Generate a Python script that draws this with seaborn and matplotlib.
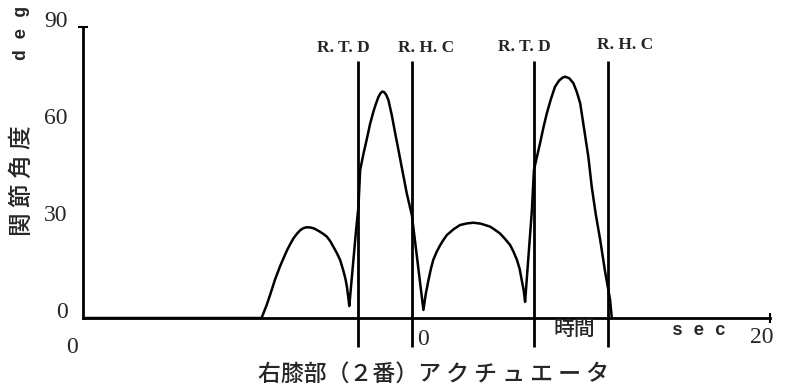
import pandas as pd
import seaborn as sns
import matplotlib.pyplot as plt
from matplotlib.transforms import ScaledTranslation

"""
Data read off the scanned chart
"""
# joint angle trace (time in sec, angle in deg)
time_sec = [0.0, 5.25, 5.4, 5.5, 5.65, 5.79, 5.9, 6.0, 6.1, 6.19, 6.3, 6.4, 6.5, 6.58, 6.7, 6.8,
            6.97, 7.07, 7.17, 7.27, 7.36, 7.46, 7.56, 7.66, 7.72, 7.76, 7.80, 7.83,
            8.03, 8.10, 8.15, 8.25, 8.34, 8.44, 8.54, 8.62, 8.69, 8.75, 8.80, 8.86, 8.92, 8.98,
            9.08, 9.18, 9.28, 9.37, 9.45, 9.52, 9.6, 9.67,
            10.01, 10.08, 10.16, 10.23, 10.3, 10.4, 10.5, 10.6, 10.7, 10.9, 11.09, 11.3, 11.48,
            11.7, 11.97, 12.1, 12.26, 12.4, 12.56, 12.66, 12.76, 12.84, 12.9, 12.96, 13.0,
            13.2, 13.26, 13.35, 13.44, 13.54, 13.64, 13.76, 13.88, 14.0, 14.1, 14.18, 14.3,
            14.42, 14.52, 14.62, 14.71, 14.86, 14.96, 15.08, 15.21, 15.35, 15.5, 15.55]
angle_deg = [0.0, 0.0, 4.0, 7.1, 12.0, 15.9, 18.6, 21.0, 23.0, 24.7, 26.2, 27.3, 27.9, 28.1, 28.0, 27.7,
             26.7, 26.0, 25.2, 23.8, 22.1, 20.2, 18.0, 14.5, 12.0, 9.7, 6.5, 3.7,
             27.2, 34.5, 45.8, 51.0, 55.1, 60.0, 63.9, 66.5, 68.5, 69.6, 70.1, 69.9, 69.0, 67.5,
             62.8, 57.2, 51.8, 46.8, 42.5, 38.6, 35.0, 31.9,
             2.5, 7.5, 11.8, 15.2, 18.0, 20.5, 22.5, 24.2, 25.7, 27.5, 28.8, 29.3, 29.5,
             29.2, 28.3, 27.4, 26.2, 24.6, 22.6, 20.5, 18.0, 15.2, 11.8, 8.5, 5.0,
             33.4, 45.8, 50.0, 54.1, 59.0, 63.4, 67.8, 71.6, 73.5, 74.4, 74.7, 74.2,
             72.7, 70.0, 66.5, 60.3, 49.9, 40.6, 32.0, 24.1, 14.5, 5.6, 0.0]

# gait events
event_names = ["R. T. D", "R. H. C", "R. T. D", "R. H. C"]
event_times = [8.10, 9.67, 13.27, 15.44]

y_tick_values = [0, 30, 60, 90]
y_tick_labels = ["0", "30", "60", "90"]
x_tick_values = [0, 10, 20]
x_tick_labels = ["0", "0", "20"]

df = pd.DataFrame({"time": time_sec, "angle": angle_deg})

"""
Figure
"""
sns.set_style("white")
plt.rcParams['font.family'] = ['Liberation Serif', 'Noto Sans CJK JP', 'DejaVu Sans']

W, H = 787, 389
fig = plt.figure(figsize=(W / 100, H / 100), dpi=100)
# axes placed so that x=0 sits at px 83, y=0 at px 318
ax = fig.add_axes([83 / W, (H - 356.8) / H, 690 / W, 336.0 / H])
ax.set_xlim(0, 20.29)
ax.set_ylim(-12, 92)
ax.patch.set_alpha(0)

sns.lineplot(data=df, x="time", y="angle", sort=False, estimator=None,
             color="black", linewidth=1.8, ax=ax)
ax.vlines(event_times, -9, 79.5, color="black", linewidth=2.0)

# event labels a little off the lines, as in the scan
label_shift = [-0.44, 0.41, -0.30, 0.5]
label_y = [83.6, 83.6, 84.0, 84.6]
for name, t, dx, ly in zip(event_names, event_times, label_shift, label_y):
    ax.text(t + dx, ly, name, ha="center", va="center", fontsize=12.5,
            fontweight="bold", family=["Liberation Serif"])

# axes lines
for s in ["top", "right"]:
    ax.spines[s].set_visible(False)
ax.spines["left"].set_bounds(0, 90)
ax.spines["bottom"].set_position(("data", 0))
ax.spines["bottom"].set_bounds(0, 20.2)
for s in ["left", "bottom"]:
    ax.spines[s].set_linewidth(2.0)
    ax.spines[s].set_color("black")
ax.plot([20.2], [0], marker="|", markersize=7, color="black", mew=1.5, clip_on=False)
ax.plot([0], [90], marker="_", markersize=7, color="black", mew=1.5, clip_on=False)

ax.set_yticks(y_tick_values)
ax.set_yticklabels(y_tick_labels, fontsize=17, family=["Liberation Serif"])
ax.tick_params(axis="y", direction="out", length=3, width=1.2, pad=8, color="black")
for lbl in ax.get_yticklabels():
    lbl.set_transform(lbl.get_transform() + ScaledTranslation(0, 0.08, fig.dpi_scale_trans))

ax.set_xticks(x_tick_values)
ax.set_xticklabels(x_tick_labels, fontsize=17, family=["Liberation Serif"])
ax.tick_params(axis="x", length=0, pad=8)
xl = ax.get_xticklabels()
xl[0].set_transform(xl[0].get_transform() + ScaledTranslation(-0.11, -0.08, fig.dpi_scale_trans))
xl[2].set_transform(xl[2].get_transform() + ScaledTranslation(-0.01, 0.02, fig.dpi_scale_trans))
ax.set_xlabel("")
ax.set_ylabel("")

ax.text(14.44, -3.4, "時間", ha="center", va="center", fontsize=15, fontweight="medium",
        family=["Noto Sans CJK JP"])
ax.text(18.1, -4.0, "s e c", ha="center", va="center", fontsize=13, fontweight="bold",
        family=["Liberation Mono"])

fig.text(22 / W, (H - 181) / H, "関 節 角 度", rotation=90, ha="center", va="center",
         fontsize=17, fontweight="medium", family=["Noto Sans CJK JP"])
fig.text(22 / W, (H - 33) / H, "d e g", rotation=90, ha="center", va="center",
         fontsize=13, fontweight="bold", family=["Liberation Mono"])
fig.text(433 / W, (H - 374) / H, "右膝部（２番）ア ク チ ュ エ ー タ", ha="center", va="center",
         fontsize=16.5, fontweight="medium", family=["Noto Sans CJK JP"])

plt.savefig("out.png", dpi=100)
